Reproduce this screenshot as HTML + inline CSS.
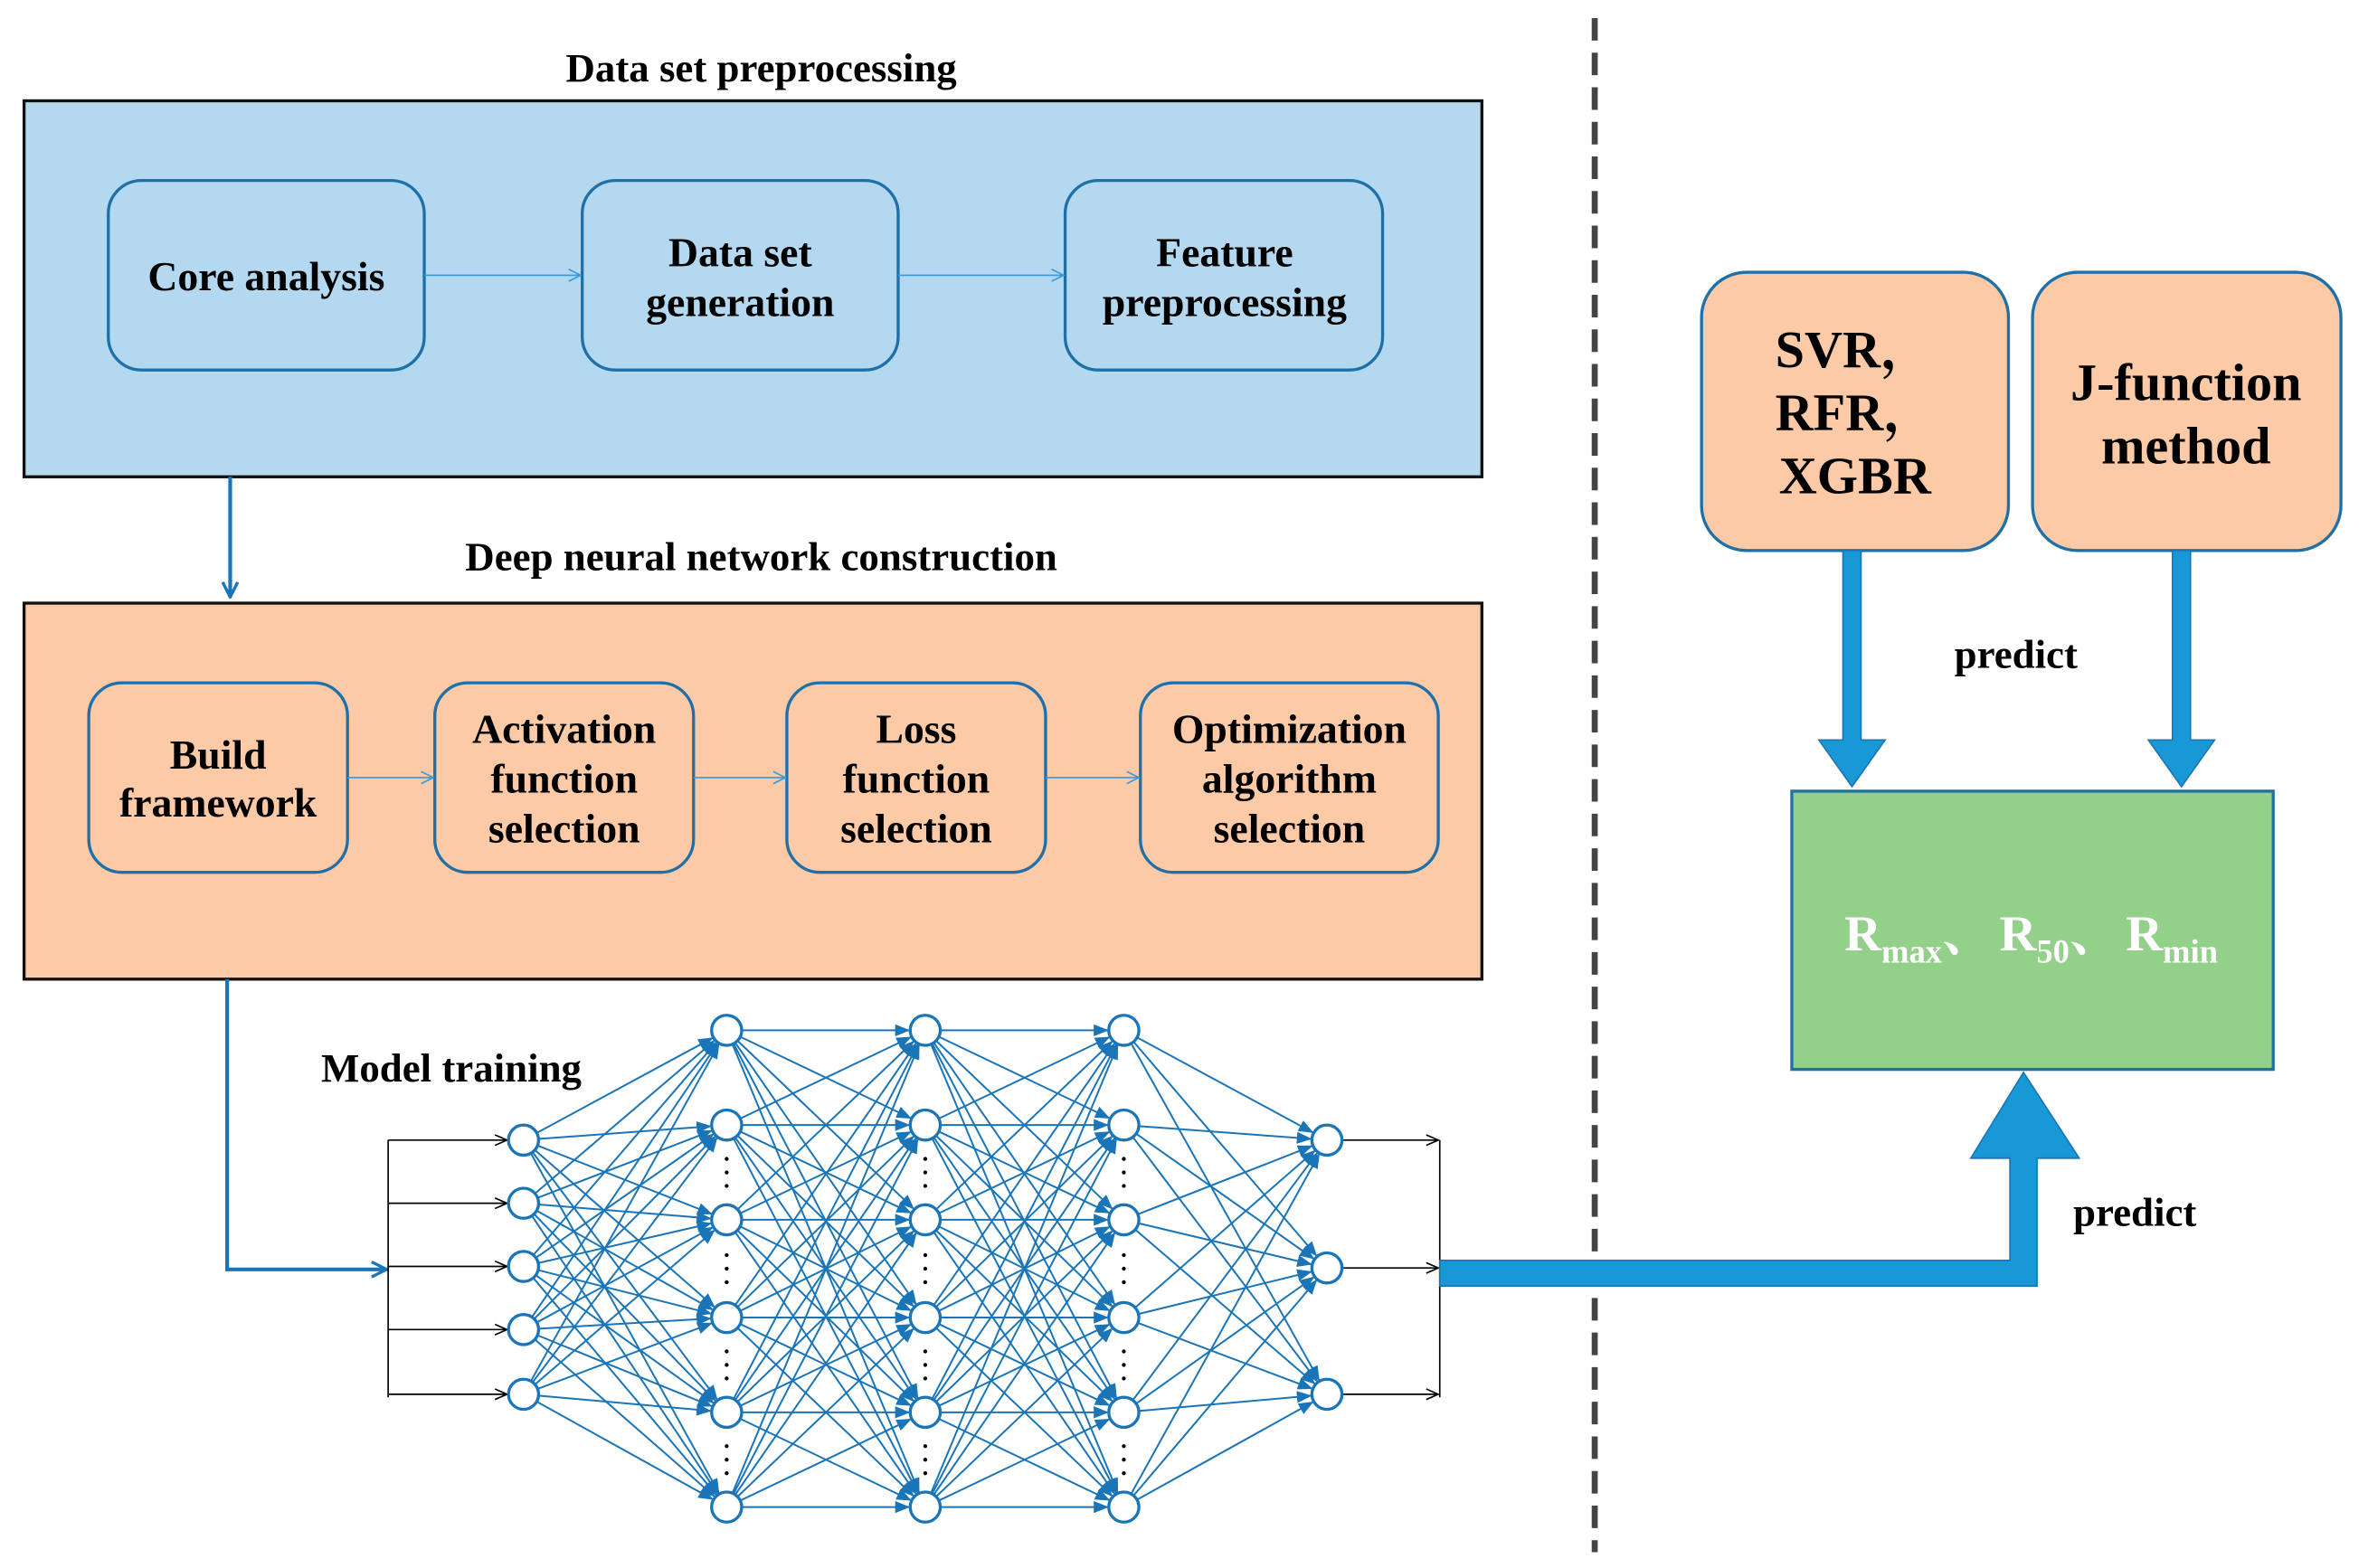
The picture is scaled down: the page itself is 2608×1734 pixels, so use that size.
<!DOCTYPE html>
<html><head><meta charset="utf-8"><style>
html,body{margin:0;padding:0;background:#fff;}
svg{display:block;}
text{font-family:"Liberation Serif","Noto Serif CJK SC",serif;font-weight:bold;}
</style></head><body>
<svg id="s" width="2608" height="1734" viewBox="0 0 1568 1042.5" xmlns="http://www.w3.org/2000/svg">
<defs>
<marker id="ta" markerWidth="10" markerHeight="10" refX="9" refY="5" orient="auto" markerUnits="userSpaceOnUse"><path d="M1,1 L9,5 L1,9" fill="none" stroke="#3a9ad9" stroke-width="1"/></marker>
<marker id="ba" markerWidth="12" markerHeight="12" refX="11" refY="6" orient="auto" markerUnits="userSpaceOnUse"><path d="M1,1 L11,6 L1,11" fill="none" stroke="#1a75b8" stroke-width="2"/></marker>
<marker id="ka" markerWidth="10" markerHeight="10" refX="9" refY="5" orient="auto" markerUnits="userSpaceOnUse"><path d="M1,1.5 L9,5 L1,8.5" fill="none" stroke="#000" stroke-width="1"/></marker>
<marker id="na" markerWidth="10" markerHeight="8" refX="9" refY="4" orient="auto" markerUnits="userSpaceOnUse"><path d="M0,0 L10,4 L0,8 Z" fill="#1a75b8"/></marker>
</defs>
<rect width="1568" height="1042.5" fill="#fff"/>
<text x="506" y="54" font-size="27" text-anchor="middle">Data set preprocessing</text>
<rect x="16" y="67" width="969" height="250" fill="#b4d8f0" stroke="#111" stroke-width="2"/>
<g fill="#b4d8f0" stroke="#1f6fa8" stroke-width="2">
<rect x="72" y="120" width="210" height="126" rx="22"/>
<rect x="387" y="120" width="210" height="126" rx="22"/>
<rect x="708" y="120" width="211" height="126" rx="22"/>
</g>
<g stroke="#3a9ad9" stroke-width="1" marker-end="url(#ta)">
<line x1="282" y1="183" x2="386" y2="183"/><line x1="597" y1="183" x2="707" y2="183"/>
</g>
<g font-size="27.5" text-anchor="middle">
<text x="177" y="193">Core analysis</text>
<text x="492" y="177">Data set</text><text x="492" y="210">generation</text>
<text x="814" y="177">Feature</text><text x="814" y="210">preprocessing</text>
</g>
<line x1="153" y1="317" x2="153" y2="397" stroke="#1a75b8" stroke-width="2.5" marker-end="url(#ba)"/>
<text x="506" y="379" font-size="27" text-anchor="middle">Deep neural network construction</text>
<rect x="16" y="401" width="969" height="250" fill="#fccaa6" stroke="#111" stroke-width="2"/>
<g fill="#fccaa6" stroke="#1f6fa8" stroke-width="2">
<rect x="59" y="454" width="172" height="126" rx="22"/>
<rect x="289" y="454" width="172" height="126" rx="22"/>
<rect x="523" y="454" width="172" height="126" rx="22"/>
<rect x="758" y="454" width="198" height="126" rx="22"/>
</g>
<g stroke="#3a9ad9" stroke-width="1" marker-end="url(#ta)">
<line x1="231" y1="517" x2="288" y2="517"/><line x1="461" y1="517" x2="522" y2="517"/><line x1="695" y1="517" x2="757" y2="517"/>
</g>
<g font-size="27.5" text-anchor="middle">
<text x="145" y="511">Build</text><text x="145" y="543">framework</text>
<text x="375" y="494">Activation</text><text x="375" y="527">function</text><text x="375" y="560">selection</text>
<text x="609" y="494">Loss</text><text x="609" y="527">function</text><text x="609" y="560">selection</text>
<text x="857" y="494">Optimization</text><text x="857" y="527">algorithm</text><text x="857" y="560">selection</text>
</g>
<polyline points="151,651 151,844 257,844" fill="none" stroke="#1a75b8" stroke-width="2.5" marker-end="url(#ba)"/>
<text x="300" y="719" font-size="27" text-anchor="middle">Model training</text>
<g id="net"></g>
<line x1="1060" y1="12" x2="1060" y2="1032" stroke="#444" stroke-width="4" stroke-dasharray="15 8"/>
<path d="M957,838 L1336,838 L1336,770 L1310,770 L1345,713 L1382,770 L1354,770 L1354,855 L957,855 Z" fill="#1899d6" stroke="#1a75b8" stroke-width="1"/>
<g fill="#fccaa6" stroke="#1f6fa8" stroke-width="2">
<rect x="1131" y="181" width="204" height="185" rx="30"/>
<rect x="1351" y="181" width="205" height="185" rx="30"/>
</g>
<g font-size="35">
<text x="1180" y="244">SVR，</text><text x="1180" y="286">RFR，</text><text x="1233" y="328" text-anchor="middle">XGBR</text>
<text x="1453" y="266" text-anchor="middle">J-function</text><text x="1453" y="308" text-anchor="middle">method</text>
</g>
<path d="M1225,366 L1237,366 L1237,492 L1253,492 L1231,523 L1209,492 L1225,492 Z" fill="#1899d6" stroke="#1a75b8"/>
<path d="M1444,366 L1456,366 L1456,492 L1472,492 L1450,523 L1428,492 L1444,492 Z" fill="#1899d6" stroke="#1a75b8"/>
<text x="1340" y="444" font-size="27" text-anchor="middle">predict</text>
<text x="1419" y="815" font-size="27" text-anchor="middle">predict</text>
<rect x="1191" y="526" width="320" height="185" fill="#93d18a" stroke="#1f6fa8" stroke-width="2"/>
<text x="1226" y="632" font-size="34" fill="#fff">R<tspan font-size="22" dy="8">max</tspan><tspan dy="-8">、</tspan></text>
<text x="1329" y="632" font-size="34" fill="#fff">R<tspan font-size="22" dy="8">50</tspan><tspan dy="-8">、</tspan></text>
<text x="1413" y="632" font-size="34" fill="#fff">R<tspan font-size="22" dy="8">min</tspan></text>
</svg>
<script>
var ns="http://www.w3.org/2000/svg",g=document.getElementById("net");
function el(n,a){var e=document.createElementNS(ns,n);for(var k in a)e.setAttribute(k,a[k]);g.appendChild(e);return e;}
var H=[685,748,811,876,939,1002];
var L=[[348,[758,800,842,884,927]],[483,H],[615,H],[747,H],[882,[758,843,927]]];
var r=10;
for(var i=0;i<4;i++){var a=L[i],b=L[i+1];
 a[1].forEach(function(y1){b[1].forEach(function(y2){
  var dx=b[0]-a[0],dy=y2-y1,d=Math.sqrt(dx*dx+dy*dy);
  el("line",{x1:a[0]+dx/d*r,y1:y1+dy/d*r,x2:b[0]-dx/d*(r+1),y2:y2-dy/d*(r+1),stroke:"#1a75b8","stroke-width":1.2,"marker-end":"url(#na)"});
 });});}
el("line",{x1:258,y1:758,x2:258,y2:929,stroke:"#000","stroke-width":1});
[758,800,842,884,927].forEach(function(y){el("line",{x1:258,y1:y,x2:337,y2:y,stroke:"#000","stroke-width":1,"marker-end":"url(#ka)"});});
el("line",{x1:957,y1:758,x2:957,y2:929,stroke:"#000","stroke-width":1});
[758,843,927].forEach(function(y){el("line",{x1:892,y1:y,x2:956,y2:y,stroke:"#000","stroke-width":1,"marker-end":"url(#ka)"});});
L.forEach(function(l){l[1].forEach(function(y){el("circle",{cx:l[0],cy:y,r:r,fill:"#fff",stroke:"#1a75b8","stroke-width":2});});});
[483,615,747].forEach(function(x){[[748,811],[811,876],[876,939],[939,1002]].forEach(function(p){
 var m=(p[0]+p[1])/2;[-9,0,9].forEach(function(o){el("circle",{cx:x,cy:m+o,r:1.3,fill:"#000"});});});});
</script>
</body></html>
